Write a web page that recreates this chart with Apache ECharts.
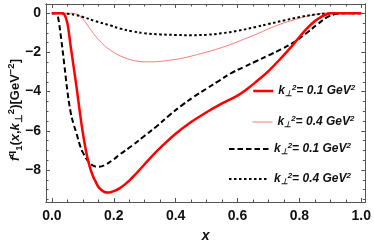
<!DOCTYPE html>
<html><head><meta charset="utf-8">
<script src="https://cdn.jsdelivr.net/npm/echarts@6/dist/echarts.min.js"></script>
<style>html,body{margin:0;padding:0;background:#fff}#c{width:374px;height:248px}</style>
</head><body><div id="c"></div>
<script>
// ---- data ----
const seriesNames = ['k01_solid', 'k04_solid', 'k01_dashed', 'k04_dotted'];
const legendValues = ['0.1', '0.4', '0.1', '0.4'];
const xTickValues = [0, 0.2, 0.4, 0.6, 0.8, 1.0];
const xTickLabels = ['0.0', '0.2', '0.4', '0.6', '0.8', '1.0'];
const yTickValues = [0, -2, -4, -6, -8];
const yTickLabels = ['0', '−2', '−4', '−6', '−8'];

// k_perp^2 = 0.1 GeV^2, thick solid red
const xRed = [0, 0.03, 0.04, 0.05, 0.06, 0.07, 0.08, 0.09, 0.10, 0.11, 0.12, 0.13, 0.14, 0.15, 0.16, 0.17, 0.18, 0.19, 0.20, 0.22, 0.24, 0.26, 0.28, 0.32, 0.36, 0.40, 0.45, 0.50, 0.55, 0.60, 0.63, 0.66, 0.70, 0.74, 0.78, 0.82, 0.85, 0.87, 0.89, 0.90, 0.95, 1.0];
const yRed = [0, 0, -0.05, -0.5, -1.6, -2.7, -3.8, -5.0, -6.1, -7.0, -7.7, -8.2, -8.55, -8.85, -9.02, -9.12, -9.15, -9.13, -9.08, -8.92, -8.68, -8.38, -8.05, -7.35, -6.72, -6.15, -5.55, -5.05, -4.6, -4.2, -3.88, -3.5, -2.95, -2.3, -1.6, -0.85, -0.4, -0.19, -0.04, 0, 0, 0];
// k_perp^2 = 0.4 GeV^2, thin solid red
const xThin = [0, 0.06, 0.08, 0.10, 0.12, 0.14, 0.16, 0.18, 0.20, 0.22, 0.24, 0.26, 0.30, 0.34, 0.38, 0.42, 0.46, 0.50, 0.54, 0.58, 0.62, 0.66, 0.70, 0.74, 0.78, 0.82, 0.85, 0.88, 1.0];
const yThin = [0, 0, -0.05, -0.3, -0.72, -1.15, -1.5, -1.78, -2.0, -2.17, -2.3, -2.4, -2.48, -2.47, -2.4, -2.3, -2.15, -1.98, -1.8, -1.58, -1.33, -1.08, -0.8, -0.55, -0.35, -0.17, -0.07, 0, 0];
// k_perp^2 = 0.1 GeV^2, dashed black
const xDash = [0, 0.015, 0.02, 0.03, 0.04, 0.05, 0.06, 0.07, 0.08, 0.09, 0.10, 0.12, 0.14, 0.15, 0.17, 0.20, 0.22, 0.26, 0.30, 0.34, 0.38, 0.42, 0.46, 0.50, 0.54, 0.58, 0.62, 0.66, 0.70, 0.74, 0.78, 0.82, 0.86, 0.89, 0.92, 0.94, 1.0];
const yDash = [0, 0, -0.2, -1.3, -2.6, -3.95, -5.0, -5.65, -6.15, -6.7, -7.1, -7.6, -7.82, -7.83, -7.75, -7.45, -7.2, -6.75, -6.25, -5.75, -5.2, -4.7, -4.25, -3.85, -3.45, -3.05, -2.75, -2.45, -2.15, -1.85, -1.5, -1.05, -0.55, -0.2, -0.03, 0, 0];
// k_perp^2 = 0.4 GeV^2, dotted black
const xDot = [0, 0.02, 0.05, 0.08, 0.10, 0.14, 0.19, 0.22, 0.26, 0.30, 0.35, 0.40, 0.45, 0.50, 0.55, 0.60, 0.66, 0.70, 0.75, 0.80, 0.85, 0.90, 0.92, 1.0];
const yDot = [0, 0, -0.03, -0.1, -0.19, -0.4, -0.63, -0.78, -0.92, -1.02, -1.08, -1.11, -1.12, -1.1, -1.02, -0.9, -0.7, -0.55, -0.37, -0.2, -0.07, -0.01, 0, 0];

// ---- chart ----
const zip = (xs, ys) => xs.map((x, i) => [x, ys[i]]);
const FONT = 'Liberation Sans, Arial, sans-serif';
const FRAME = '#555';
const xMin = -0.019, xMax = 1.013, yMin = -9.63, yMax = 0.47;
const xMinor = [], yMinor = [];
for (let i = 0; i <= 20; i++) xMinor.push(+(i * 0.05).toFixed(2));
for (let i = -19; i <= 0; i++) yMinor.push(i * 0.5);

function labelFor(values, labels, v) {
  let best = 0;
  values.forEach((t, i) => { if (Math.abs(t - v) < Math.abs(values[best] - v)) best = i; });
  return labels[best];
}

const axLine = {show: true, onZero: false, lineStyle: {color: FRAME, width: 1}};
const tickStyle = {color: FRAME, width: 1};
const labelStyle = {fontSize: 14, fontWeight: 'bold', fontFamily: FONT, color: '#111'};

function xAx(pos, ticks, len, withLabels) {
  return {
    type: 'value', position: pos, min: xMin, max: xMax,
    axisLine: axLine, splitLine: {show: false},
    axisTick: {show: true, inside: true, length: len, customValues: ticks, lineStyle: tickStyle},
    axisLabel: withLabels ? Object.assign({show: true, customValues: xTickValues, margin: 7,
      formatter: v => labelFor(xTickValues, xTickLabels, v)}, labelStyle) : {show: false}
  };
}
function yAx(pos, ticks, len, withLabels) {
  return {
    type: 'value', position: pos, min: yMin, max: yMax,
    axisLine: axLine, splitLine: {show: false},
    axisTick: {show: true, inside: true, length: len, customValues: ticks, lineStyle: tickStyle},
    axisLabel: withLabels ? Object.assign({show: true, customValues: yTickValues, margin: 5,
      formatter: v => labelFor(yTickValues, yTickLabels, v)}, labelStyle) : {show: false}
  };
}

const xAxes = [xAx('bottom', xTickValues, 4, true), xAx('bottom', xMinor, 2.5, false),
               xAx('top', xTickValues, 4, false), xAx('top', xMinor, 2.5, false)];
Object.assign(xAxes[0], {name: 'x', nameLocation: 'middle', nameGap: 27,
  nameTextStyle: {fontSize: 14, fontWeight: 'bold', fontStyle: 'italic', fontFamily: FONT, color: '#111'}});
const yAxes = [yAx('left', yTickValues, 4, true), yAx('left', yMinor, 2.5, false),
               yAx('right', yTickValues, 4, false), yAx('right', yMinor, 2.5, false)];

const tBase = {fontFamily: FONT, fontWeight: 'bold', fill: '#111', color: '#111'};
const yTitleRich = {
  m: Object.assign({fontSize: 13, lineHeight: 18}, tBase),
  i: Object.assign({fontSize: 13, lineHeight: 18, fontStyle: 'italic'}, tBase),
  sup: Object.assign({fontSize: 9.5, lineHeight: 10, verticalAlign: 'top'}, tBase),
  sub: Object.assign({fontSize: 9.5, lineHeight: 10, verticalAlign: 'bottom'}, tBase)
};

const legRich = {
  m: Object.assign({fontSize: 12, lineHeight: 14, fontStyle: 'italic'}, tBase),
  sup: Object.assign({fontSize: 8, lineHeight: 8, verticalAlign: 'top', fontStyle: 'italic'}, tBase),
  sub: Object.assign({fontSize: 8, lineHeight: 8, verticalAlign: 'bottom', fontStyle: 'italic'}, tBase)
};
const legFmt = name => {
  const v = legendValues[seriesNames.indexOf(name)];
  return '{m|k}{sub|⊥}{sup|2}{m|= ' + v + ' GeV}{sup|2}';
};
const legPos = [
  {left: 252, top: 84, w: 20, lw: 2.5, type: 'solid', color: '#ff0000'},
  {left: 252, top: 115, w: 20, lw: 1, type: 'solid', color: '#ff7a7a'},
  {left: 228, top: 142, w: 40, lw: 2, type: [5.5, 3], color: '#000'},
  {left: 228, top: 172, w: 40, lw: 2, type: [2.5, 2.5], color: '#000'}
];
const legends = seriesNames.map((n, i) => ({
  data: [n], left: legPos[i].left, top: legPos[i].top, padding: 0,
  itemWidth: legPos[i].w, itemHeight: 14, selectedMode: false,
  lineStyle: {width: legPos[i].lw, type: legPos[i].type, color: legPos[i].color},
  itemStyle: {opacity: 0, borderWidth: 0},
  formatter: legFmt, textStyle: {rich: legRich}
}));

const styles = [
  {color: '#ff0000', width: 2.5, type: 'solid', z: 4},
  {color: '#ff7a7a', width: 1, type: 'solid', z: 2},
  {color: '#000000', width: 2, type: [5.5, 3], z: 3},
  {color: '#000000', width: 2, type: [2.5, 2.5], z: 3}
];
const datas = [zip(xRed, yRed), zip(xThin, yThin), zip(xDash, yDash), zip(xDot, yDot)];

const series = seriesNames.map((n, i) => ({
  name: n, type: 'line', data: datas[i], xAxisIndex: 0, yAxisIndex: 0,
  symbol: 'none', showSymbol: false, smooth: 0.4, z: styles[i].z,
  color: styles[i].color,
  lineStyle: {color: styles[i].color, width: styles[i].width, type: styles[i].type},
  animation: false
}));

const chart = echarts.init(document.getElementById('c'), null, {renderer: 'canvas'});
chart.setOption({
  animation: false,
  backgroundColor: '#fff',
  grid: {left: 46, right: 2, top: 4, bottom: 46, containLabel: false},
  xAxis: xAxes, yAxis: yAxes,
  legend: legends,
  series: series,
  graphic: [{
    type: 'text', x: 15, y: 110, rotation: Math.PI / 2,
    style: {
      text: '{i|f}{sup|q}{sub|1}{m|(}{i|x}{m|,}{i|k}{sub|⊥}{sup|2}{m|)[GeV}{sup|−2}{m|]}',
      rich: yTitleRich, align: 'center', verticalAlign: 'middle'
    }
  }]
});
</script></body></html>
